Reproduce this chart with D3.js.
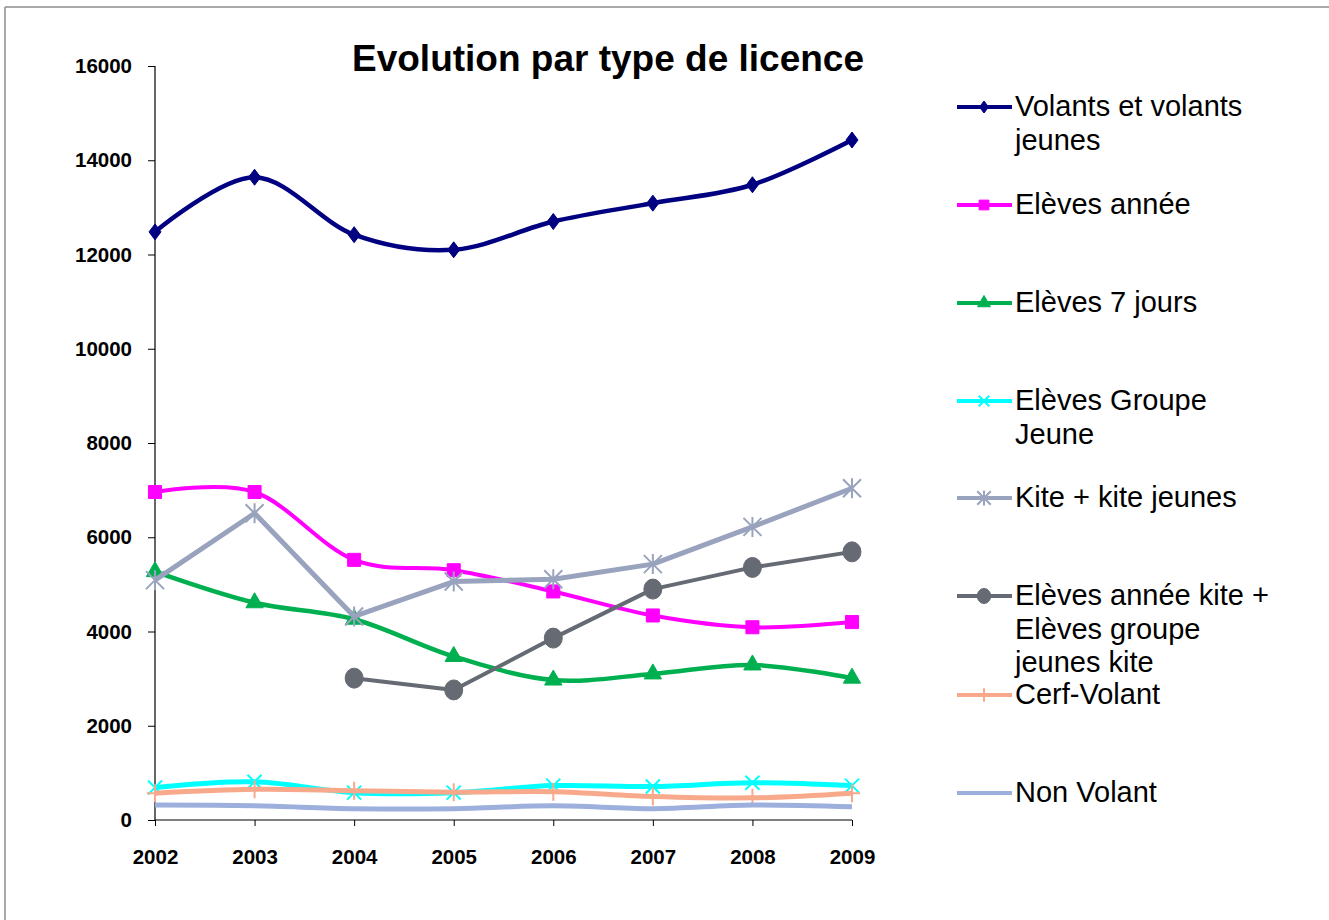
<!DOCTYPE html>
<html>
<head>
<meta charset="utf-8">
<script src="https://cdn.jsdelivr.net/npm/d3@7"></script>
<style>
  body { margin: 0; background: #fff; }
  svg { display: block; font-family: "Liberation Sans", Arial, sans-serif; }
</style>
</head>
<body>
<div id="chart"></div>
<script>
// data
const years = [2002, 2003, 2004, 2005, 2006, 2007, 2008, 2009];
const yTicks = [0, 2000, 4000, 6000, 8000, 10000, 12000, 14000, 16000];

const volants     = [12480, 13640, 12420, 12100, 12700, 13090, 13480, 14430];
const elevesAnnee = [6960, 6960, 5520, 5300, 4850, 4340, 4090, 4200];
const eleves7j    = [5270, 4610, 4260, 3470, 2970, 3100, 3290, 3010];
const groupeJeune = [690, 810, 580, 580, 730, 710, 790, 730];
const kite        = [5090, 6510, 4320, 5060, 5110, 5430, 6220, 7040];
const anneeKite   = [null, null, 3010, 2760, 3860, 4900, 5360, 5690];
const cerfVolant  = [570, 650, 620, 590, 600, 500, 470, 570];
const nonVolant   = [320, 300, 240, 240, 300, 240, 320, 280];

const seriesNames = [
  ["Volants et volants", "jeunes"],
  ["Elèves année"],
  ["Elèves 7 jours"],
  ["Elèves Groupe", "Jeune"],
  ["Kite + kite jeunes"],
  ["Elèves année kite +", "Elèves groupe", "jeunes kite"],
  ["Cerf-Volant"],
  ["Non Volant"]
];

const width = 1329, height = 920;
const svg = d3.select('#chart').append('svg')
    .attr('width', width)
    .attr('height', height);

// frame lines (only top and left visible in the picture)
svg.append('line').attr('x1', 5).attr('y1', 7).attr('x2', width).attr('y2', 7)
    .attr('stroke', '#8c8c8c').attr('stroke-width', 1.5);
svg.append('line').attr('x1', 5).attr('y1', 7).attr('x2', 5).attr('y2', height)
    .attr('stroke', '#8c8c8c').attr('stroke-width', 1.5);

// scales
const x = d3.scalePoint().domain(years).range([155, 852]);
const y = d3.scaleLinear().domain([0, 16000]).range([820, 66]);

// title
svg.append('text')
    .attr('x', 608).attr('y', 71)
    .attr('text-anchor', 'middle')
    .attr('font-size', 37).attr('font-weight', 'bold')
    .text('Evolution par type de licence');

// axes
const yAxis = svg.append('g')
    .attr('transform', 'translate(155,0)')
    .call(d3.axisLeft(y).tickValues(yTicks).tickSize(7).tickPadding(16).tickFormat(d3.format('d')));
const xAxis = svg.append('g')
    .attr('transform', 'translate(0,820)')
    .call(d3.axisBottom(x).tickSize(6).tickPadding(23).tickFormat(d3.format('d')));
[yAxis, xAxis].forEach(g => {
  g.select('.domain').attr('stroke', '#000').attr('stroke-width', 1.2);
  g.selectAll('.tick line').attr('stroke', '#000');
  g.selectAll('.tick text')
      .attr('font-family', '"Liberation Sans", Arial, sans-serif')
      .attr('font-size', 20.5).attr('font-weight', 'bold').attr('fill', '#000');
});
yAxis.select('.domain').attr('d', 'M0,820V66');
xAxis.select('.domain').attr('d', 'M155,0H852');

// marker shapes
const sym = (type, size) => d3.symbol().type(type).size(size)();
const markerPath = {
  diamond: s => `M0,${-8 * s}L${6 * s},0L0,${8 * s}L${-6 * s},0Z`,
  square: s => sym(d3.symbolSquare, 170 * s * s),
  triangle: s => sym(d3.symbolTriangle, 130 * s * s),
  cross: s => `M${-7 * s},${-7 * s}L${7 * s},${7 * s}M${-7 * s},${7 * s}L${7 * s},${-7 * s}`,
  star: s => `M${-9 * s},${-9 * s}L${9 * s},${9 * s}M${-9 * s},${9 * s}L${9 * s},${-9 * s}M0,${-10 * s}V${10 * s}`,
  circle: s => `M${-9 * s},0a${9 * s},${10 * s} 0 1,0 ${18 * s},0a${9 * s},${10 * s} 0 1,0 ${-18 * s},0Z`,
  plus: s => `M0,${-9 * s}V${9 * s}M${-8 * s},0H${8 * s}`,
  none: s => ''
};

const series = [
  { values: volants,     color: '#000080', width: 4.5, marker: 'diamond',  smooth: true,  filled: true },
  { values: elevesAnnee, color: '#ff00ff', width: 4,   marker: 'square',   smooth: true,  filled: true },
  { values: eleves7j,    color: '#00b050', width: 4.5, marker: 'triangle', smooth: true,  filled: true },
  { values: groupeJeune, color: '#00ffff', width: 5,   marker: 'cross',    smooth: true,  filled: false },
  { values: kite,        color: '#99a3bd', width: 5,   marker: 'star',     smooth: false, filled: false },
  { values: anneeKite,   color: '#666a73', width: 4,   marker: 'circle',   smooth: false, filled: true },
  { values: cerfVolant,  color: '#f9a98b', width: 5,   marker: 'plus',     smooth: true,  filled: false },
  { values: nonVolant,   color: '#9db0dd', width: 5,   marker: 'none',     smooth: true,  filled: false }
];

series.forEach((s, i) => {
  const pts = years.map((yr, j) => ({ yr, v: s.values[j] })).filter(d => d.v !== null);
  const line = d3.line()
      .x(d => x(d.yr))
      .y(d => y(d.v))
      .curve(s.smooth ? d3.curveCatmullRom.alpha(0) : d3.curveLinear);
  const g = svg.append('g');
  g.append('path')
      .attr('d', line(pts))
      .attr('fill', 'none')
      .attr('stroke', s.color)
      .attr('stroke-width', s.width)
      .attr('stroke-linejoin', 'round');
  g.selectAll('.mark')
      .data(pts)
      .join('path')
        .attr('class', 'mark')
        .attr('transform', d => `translate(${x(d.yr)},${y(d.v)})`)
        .attr('d', markerPath[s.marker](1))
        .attr('fill', s.filled ? s.color : 'none')
        .attr('stroke', s.color)
        .attr('stroke-width', s.filled ? 1 : 2);
});

// legend
const legendY = [107, 205, 303, 401, 498, 596, 695, 793];
const legend = svg.selectAll('.legend')
    .data(series)
    .join('g')
      .attr('class', 'legend')
      .attr('transform', (d, i) => `translate(0,${legendY[i]})`);
legend.append('line')
    .attr('x1', 957).attr('x2', 1012)
    .attr('y1', 0).attr('y2', 0)
    .attr('stroke', d => d.color)
    .attr('stroke-width', 4);
legend.append('path')
    .attr('transform', 'translate(984,0)')
    .attr('d', d => markerPath[d.marker](0.75))
    .attr('fill', d => d.filled ? d.color : 'none')
    .attr('stroke', d => d.color)
    .attr('stroke-width', d => d.filled ? 1 : 2);
legend.each(function (d, i) {
  const t = d3.select(this).append('text')
      .attr('x', 1015).attr('y', 9)
      .attr('font-size', 29)
      .attr('fill', '#000');
  seriesNames[i].forEach((ln, k) => {
    t.append('tspan').attr('x', 1015).attr('dy', k === 0 ? 0 : 33.5).text(ln);
  });
});
</script>
</body>
</html>
